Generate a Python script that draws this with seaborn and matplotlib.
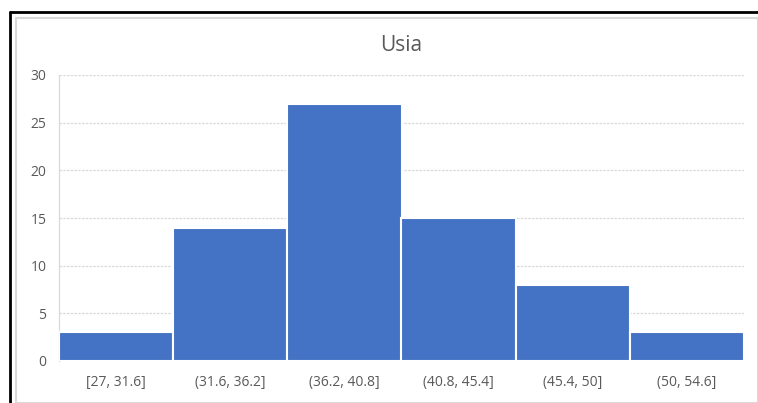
import matplotlib
matplotlib.use("Agg")
import matplotlib.pyplot as plt
import seaborn as sns
import pandas as pd
from matplotlib.patches import Rectangle

categories = ["[27, 31.6]", "(31.6, 36.2]", "(36.2, 40.8]", "(40.8, 45.4]", "(45.4, 50]", "(50, 54.6]"]
counts = [3, 14, 27, 15, 8, 3]
y_ticks = [0, 5, 10, 15, 20, 25, 30]
title = "Usia"

sns.set_theme(style="white")
plt.rcParams['font.family'] = ['Open Sans', 'DejaVu Sans']

df = pd.DataFrame({"bin": categories, "count": counts})

fig = plt.figure(figsize=(7.58, 4.03), dpi=100)
ax = fig.add_axes([59/758, 42/403, 685/758, 286/403])

sns.barplot(data=df, x="bin", y="count", color="#4472C4", saturation=1,
            width=1.0, edgecolor="white", linewidth=1.5, ax=ax, zorder=3)

ax.set_xlim(-0.5, len(categories) - 0.5)
ax.set_ylim(0, 30)
ax.set_yticks(y_ticks)
ax.yaxis.grid(True, color="#d9d9d9", linestyle=(0, (2, 1)), linewidth=0.9, zorder=0)
ax.set_axisbelow(True)
for s in ["top", "right", "bottom"]:
    ax.spines[s].set_visible(False)
ax.spines["left"].set_color("#d9d9d9")
ax.spines["left"].set_linestyle((0, (2, 1)))
ax.spines["left"].set_linewidth(0.9)
ax.set_xlabel("")
ax.set_ylabel("")
ax.tick_params(axis="both", length=0, labelsize=10, labelcolor="#595959")
ax.tick_params(axis="x", pad=10)
ax.tick_params(axis="y", pad=9)
ax.set_title(title, fontsize=15, color="#595959", pad=17)

# outer frames
fig.patches.append(Rectangle((16/758, 0), 742/758, 385/403, transform=fig.transFigure,
                             fill=False, edgecolor="#d9d9d9", linewidth=1.5))
fig.add_artist(plt.Line2D([10/758, 10/758], [0, 391/403], transform=fig.transFigure,
                          color="black", linewidth=2))
fig.add_artist(plt.Line2D([10/758, 1], [391/403, 391/403], transform=fig.transFigure,
                          color="black", linewidth=2))

fig.savefig("out.png", dpi=100)
